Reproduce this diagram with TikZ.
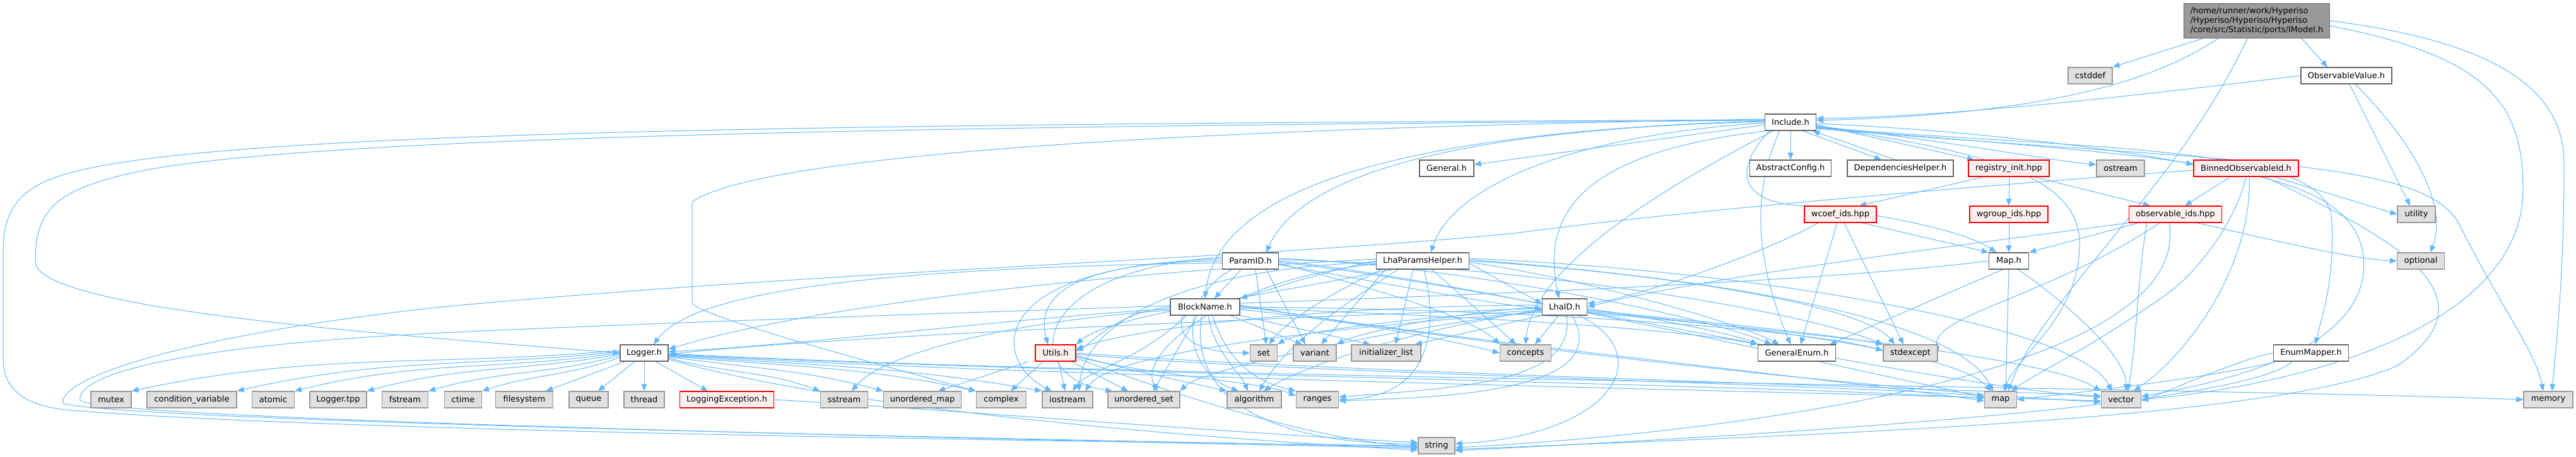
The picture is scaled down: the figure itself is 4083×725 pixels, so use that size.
\documentclass[tikz,border=0pt]{standalone}
\usepackage{fontspec}
\setmainfont{DejaVu Sans}
\usetikzlibrary{arrows.meta}
\definecolor{eb}{HTML}{63B8FF}
\definecolor{gfill}{HTML}{E0E0E0}
\definecolor{gdraw}{HTML}{999999}
\definecolor{wdraw}{HTML}{666666}
\definecolor{rfill}{HTML}{FFF0F0}
\definecolor{rdraw}{HTML}{FF0000}
\pgfdeclarelayer{back}
\pgfdeclarelayer{edges}
\pgfsetlayers{back,edges,main}
\begin{document}
\begin{tikzpicture}[x=1pt,y=-1pt,
  base/.style={rectangle, minimum height=26pt, inner xsep=2pt, inner ysep=0pt, line width=1.3pt, font=\fontsize{13}{15}\selectfont},
  wb/.style={base, draw=wdraw, fill=white},
  gb/.style={base, draw=gdraw, fill=gfill},
  rb/.style={base, draw=rdraw, fill=rfill},
  e/.style={draw=eb, line width=1pt, -{Triangle[length=11pt,width=9pt]}},
]
\begin{pgfonlayer}{back}
\fill[white] (0,0) rectangle (4083,725);
\end{pgfonlayer}
\useasboundingbox (0,0) rectangle (4083,725);

% ---------- nodes ----------
\node[base, draw=wdraw, fill=gdraw, minimum width=231pt, minimum height=55pt, align=left] (imodel) at (3577,33) {/home/runner/work/Hyperiso\\/Hyperiso/Hyperiso/Hyperiso\\/core/src/Statistic/ports/IModel.h};
\node[gb, minimum width=70pt] (cstddef) at (3313,120) {cstddef};
\node[wb, minimum width=144pt] (obsval) at (3719,120) {ObservableValue.h};
\node[wb, minimum width=81pt] (include) at (2838,194) {Include.h};
\node[wb, minimum width=86pt] (general) at (2293,267) {General.h};
\node[wb, minimum width=129pt] (abscfg) at (2838,267) {AbstractConfig.h};
\node[wb, minimum width=168pt] (dephelp) at (3012,267) {DependenciesHelper.h};
\node[rb, minimum width=128pt] (reginit) at (3184,267) {registry\_init.hpp};
\node[gb, minimum width=76pt] (ostream) at (3361,267) {ostream};
\node[rb, minimum width=166pt] (binned) at (3560,267) {BinnedObservableId.h};
\node[rb, minimum width=114pt] (wcoef) at (2917,340) {wcoef\_ids.hpp};
\node[rb, minimum width=124pt] (wgroup) at (3184,340) {wgroup\_ids.hpp};
\node[rb, minimum width=147pt] (obsids) at (3448,340) {observable\_ids.hpp};
\node[gb, minimum width=60pt] (utility) at (3830,340) {utility};
\node[wb, minimum width=89pt] (paramid) at (1982,414) {ParamID.h};
\node[wb, minimum width=147pt] (lhaph) at (2255,414) {LhaParamsHelper.h};
\node[wb, minimum width=63pt] (mapH) at (3184,414) {Map.h};
\node[gb, minimum width=75pt] (optional) at (3837,414) {optional};
\node[wb, minimum width=110pt] (blockname) at (1910,487) {BlockName.h};
\node[wb, minimum width=71pt] (lhaid) at (2480,487) {LhaID.h};
\node[wb, minimum width=76pt] (logger) at (1021,560) {Logger.h};
\node[rb, minimum width=64pt] (utils) at (1673,560) {Utils.h};
\node[gb, minimum width=43pt] (set) at (2003,560) {set};
\node[gb, minimum width=68pt] (variant) at (2084,560) {variant};
\node[gb, minimum width=110pt] (initlist) at (2197,560) {initializer\_list};
\node[gb, minimum width=81pt] (concepts) at (2418,560) {concepts};
\node[wb, minimum width=123pt] (genenum) at (2848,560) {GeneralEnum.h};
\node[gb, minimum width=86pt] (stdexcept) at (3028,560) {stdexcept};
\node[wb, minimum width=119pt] (enummap) at (3663,560) {EnumMapper.h};
\node[gb, minimum width=64pt] (mutex) at (176,634) {mutex};
\node[gb, minimum width=142pt] (condvar) at (304,634) {condition\_variable};
\node[gb, minimum width=67pt] (atomic) at (433,634) {atomic};
\node[gb, minimum width=90pt] (loggertpp) at (536,634) {Logger.tpp};
\node[gb, minimum width=73pt] (fstream) at (642,634) {fstream};
\node[gb, minimum width=59pt] (ctime) at (734,634) {ctime};
\node[gb, minimum width=91pt] (filesystem) at (831,634) {filesystem};
\node[gb, minimum width=62pt] (queue) at (933,634) {queue};
\node[gb, minimum width=64pt] (thread) at (1021,634) {thread};
\node[rb, minimum width=149pt] (logexc) at (1152,634) {LoggingException.h};
\node[gb, minimum width=75pt] (sstream) at (1338,634) {sstream};
\node[gb, minimum width=123pt] (umap) at (1462,634) {unordered\_map};
\node[gb, minimum width=79pt] (complex) at (1587,634) {complex};
\node[gb, minimum width=80pt] (iostream) at (1692,634) {iostream};
\node[gb, minimum width=114pt] (uset) at (1813,634) {unordered\_set};
\node[gb, minimum width=86pt] (algorithm) at (1988,634) {algorithm};
\node[gb, minimum width=67pt] (ranges) at (2088,634) {ranges};
\node[gb, minimum width=51pt] (map) at (3171,634) {map};
\node[gb, minimum width=63pt] (vector) at (3362,634) {vector};
\node[gb, minimum width=78pt] (memory) at (4039,634) {memory};
\node[gb, minimum width=58pt] (string) at (2277,707) {string};

% ---------- edges ----------
\begin{pgfonlayer}{edges}
% IModel
\draw[e] ([xshift=30pt]imodel.south west) -- (cstddef.north east);
\draw[e] ([xshift=55pt]imodel.south west) .. controls (3440,110) and (3300,180) .. ([yshift=3pt]include.east);
\draw[e] ([xshift=-45pt]imodel.south east) -- ([xshift=-30pt]obsval.north);
\draw[e] ([xshift=-15pt]imodel.south) .. controls (3450,300) and (3240,470) .. ([xshift=12pt]map.north);
\draw[e] ([yshift=-8pt]imodel.east) .. controls (3950,90) and (3999,170) .. (3999,300) .. controls (3999,520) and (3650,610) .. (vector.east);
\draw[e] (imodel.east) .. controls (3990,70) and (4064,160) .. (4064,260) .. controls (4064,450) and (4050,560) .. ([xshift=6pt]memory.north);
% ObservableValue
\draw[e] (obsval.west) .. controls (3400,150) and (3100,185) .. ([yshift=6pt]include.east);
\draw[e] ([xshift=5pt]obsval.south) -- ([xshift=-10pt]utility.north);
\draw[e] ([xshift=14pt]obsval.south) .. controls (3830,230) and (3880,330) .. ([xshift=15pt]optional.north);
% Include
\draw[e] (include) -- (abscfg);
\draw[e] ([xshift=-22pt]include.south east) -- ([xshift=-30pt]dephelp.north);
\draw[e] ([xshift=-8pt]dephelp.north) -- ([xshift=-6pt]include.south east);
\draw[e] ([yshift=-4pt]include.east) -- ([xshift=-55pt]reginit.north);
\draw[e] ([yshift=-6pt]include.east) .. controls (3100,225) and (3250,255) .. ([yshift=6pt]ostream.west);
\draw[e] ([yshift=-2pt]include.east) .. controls (3100,205) and (3350,235) .. ([yshift=6pt]binned.west);
\draw[e] ([yshift=-4pt]include.west) -- ([yshift=6pt]general.east);
\draw[e] ([yshift=1pt]include.west) .. controls (2300,205) and (2060,280) .. ([xshift=25pt]paramid.north);
\draw[e] ([yshift=2pt]include.west) .. controls (2250,208) and (1930,290) .. (blockname.north);
\draw[e] ([yshift=-1pt]include.west) .. controls (2480,215) and (2300,300) .. ([xshift=13pt]lhaph.north);
\draw[e] ([xshift=3pt]include.south west) .. controls (2520,240) and (2440,330) .. ([xshift=-9pt]lhaid.north);
\draw[e] ([xshift=14pt]include.south west) .. controls (2650,290) and (2430,420) .. (concepts.north);
\draw[e] ([xshift=24pt]include.south west) .. controls (2770,320) and (2790,430) .. ([xshift=-10pt]genenum.north);
\draw[e] ([xshift=8pt]include.south west) .. controls (2745,270) and (2760,320) .. (2850,326) .. controls (3000,340) and (3120,370) .. ([xshift=-20pt]mapH.north);
\draw[e] ([yshift=-7pt]include.east) .. controls (3150,240) and (3290,280) .. (3296,380) .. controls (3300,500) and (3200,560) .. ([xshift=5pt]map.north);
\draw[e] ([yshift=-8pt]include.east) .. controls (3350,240) and (3690,230) .. (3696,350) .. controls (3700,450) and (3680,500) .. ([xshift=7pt]enummap.north);
\draw[e] ([yshift=-9pt]include.east) .. controls (3450,250) and (3720,260) .. (3745,400) .. controls (3770,560) and (3500,610) .. ([yshift=5pt]vector.east);
\draw[e] ([yshift=-10pt]include.east) .. controls (3550,260) and (3850,250) .. (3900,360) .. controls (3960,480) and (4020,560) .. ([xshift=-8pt]memory.north);
\draw[e] ([yshift=3pt]include.west) .. controls (1500,200) and (500,215) .. (220,272) .. controls (90,300) and (56,330) .. (56,415) .. controls (56,490) and (600,530) .. (logger.west);
\draw[e] ([yshift=4pt]include.west) .. controls (1500,196) and (600,205) .. (232,252) .. controls (60,275) and (5,300) .. (5,400) -- (5,570) .. controls (5,630) and (60,645) .. (103,650) .. controls (500,685) and (1800,702) .. (string.west);
\draw[e] ([yshift=5pt]include.west) .. controls (1800,205) and (1200,250) .. (1097,320) -- (1097,480) .. controls (1100,500) and (1400,580) .. (complex.north west);
% registry
\draw[e] ([xshift=-40pt]reginit.south) -- ([xshift=30pt]wcoef.north);
\draw[e] (reginit) -- (wgroup);
\draw[e] ([xshift=40pt]reginit.south) -- ([xshift=-40pt]obsids.north);
\draw[e] ([xshift=-35pt]wcoef.south) .. controls (2800,400) and (2600,470) .. ([yshift=5pt]lhaid.east);
\draw[e] ([xshift=-5pt]wcoef.south) -- ([xshift=6pt]genenum.north);
\draw[e] ([xshift=6pt]wcoef.south) -- ([xshift=-11pt]stdexcept.north);
\draw[e] ([xshift=35pt]wcoef.south) -- (mapH.north west);
\draw[e] (wgroup) -- (mapH);
\draw[e] ([xshift=15pt]obsids.south west) -- (mapH.north east);
\draw[e] (obsids.south west) .. controls (3100,390) and (2700,440) .. (lhaid.east);
\draw[e] ([xshift=-40pt]obsids.south east) .. controls (3600,380) and (3720,410) .. (optional.west);
\draw[e] ([xshift=-45pt]obsids.south) .. controls (3390,420) and (3385,560) .. ([xshift=10pt]vector.north);
\draw[e] ([xshift=-25pt]obsids.south) .. controls (3250,470) and (3060,500) .. (stdexcept.east);
\draw[e] ([xshift=-10pt]obsids.south) .. controls (3480,600) and (2700,690) .. ([yshift=-3pt]string.east);
% binned
\draw[e] ([xshift=-25pt]binned.south) -- ([xshift=15pt]obsids.north);
\draw[e] ([xshift=45pt]binned.south) -- (utility.west);
\draw[e] (binned.south) .. controls (3550,330) and (3500,420) .. (3430,470) .. controls (3300,560) and (3230,590) .. ([xshift=17pt]map.north);
\draw[e] ([xshift=5pt]binned.south) .. controls (3570,420) and (3470,560) .. ([xshift=20pt]vector.north);
\draw[e] ([xshift=30pt]binned.south) .. controls (3800,380) and (3960,470) .. (3800,580) .. controls (3600,670) and (2800,692) .. ([yshift=-6pt]string.east);
\draw[e] ([yshift=-3pt]binned.west) .. controls (3200,290) and (2700,330) .. (2400,370) .. controls (2000,410) and (1300,430) .. (700,487) .. controls (300,530) and (90,600) .. (100,640) .. controls (200,670) and (1800,700) .. ([yshift=-2pt]string.west);
% Map.h
\draw[e] ([xshift=-10pt]mapH.south) -- ([xshift=-10pt]genenum.north east);
\draw[e] (mapH.south) -- ([xshift=8pt]map.north);
\draw[e] ([xshift=15pt]mapH.south) .. controls (3260,470) and (3370,560) .. ([xshift=8pt]vector.north);
\draw[e] (mapH.west) .. controls (2700,470) and (1500,490) .. (700,528) .. controls (250,550) and (120,600) .. (127,635) .. controls (150,665) and (1500,695) .. ([yshift=-4pt]string.west);
% EnumMapper
\draw[e] ([xshift=5pt]enummap.south west) .. controls (3500,600) and (3300,622) .. (map.east);
\draw[e] (enummap.west) .. controls (3550,570) and (3450,615) .. ([yshift=-2pt]vector.east);
\draw[e] ([xshift=30pt]enummap.south west) .. controls (3550,650) and (2700,695) .. ([yshift=-8pt]string.east);
% LoggingException
\draw[e] (logexc.east) .. controls (1500,650) and (2000,690) .. ([yshift=5pt]string.west);
% Logger
\draw[e] ([yshift=4pt]logger.west) to[out=185,in=12] (mutex.north east);
\draw[e] ([yshift=2pt]logger.west) to[out=186,in=13] (condvar.north east);
\draw[e] (logger.west) to[out=188,in=14] (atomic.north east);
\draw[e] ([yshift=-2pt]logger.west) to[out=190,in=15] (loggertpp.north east);
\draw[e] ([yshift=-4pt]logger.west) to[out=195,in=16] (fstream.north east);
\draw[e] ([yshift=-7pt]logger.west) to[out=200,in=18] (ctime.north east);
\draw[e] ([xshift=8pt]logger.south west) -- ([xshift=-12pt]filesystem.north east);
\draw[e] ([xshift=-15pt]logger.south) -- ([xshift=15pt]queue.north);
\draw[e] (logger) -- (thread);
\draw[e] ([xshift=-20pt]logger.south east) -- ([xshift=-30pt]logexc.north);
\draw[e] ([yshift=-8pt]logger.east) to[out=-15,in=160] (sstream.north west);
\draw[e] ([yshift=-6pt]logger.east) to[out=-8,in=165] (umap.north west);
\draw[e] ([yshift=-5pt]logger.east) to[out=-5,in=168] (complex.north west);
\draw[e] ([yshift=-4pt]logger.east) to[out=-4,in=170] (iostream.north west);
\draw[e] ([yshift=-10pt]logger.east) .. controls (1300,640) and (1800,690) .. ([yshift=-7pt]string.west);
\draw[e] ([yshift=-2pt]logger.east) .. controls (1600,590) and (2800,610) .. ([yshift=2pt]map.west);
\draw[e] ([yshift=-3pt]logger.east) .. controls (1700,600) and (3000,625) .. ([yshift=-2pt]vector.west);
\draw[e] ([yshift=-1pt]logger.east) .. controls (1800,600) and (3500,615) .. (memory.west);
% ParamID
\draw[e] ([xshift=-15pt]paramid.south) -- ([xshift=15pt]blockname.north);
\draw[e] (paramid.west) .. controls (1700,415) and (1640,470) .. ([xshift=-12pt]utils.north);
\draw[e] ([yshift=-3pt]paramid.west) .. controls (1400,425) and (1100,460) .. ([xshift=15pt]logger.north);
\draw[e] ([yshift=3pt]paramid.west) .. controls (1560,420) and (1570,570) .. ([xshift=-25pt]iostream.north);
\draw[e] ([yshift=6pt]paramid.west) .. controls (1620,430) and (1620,600) .. ([xshift=8pt]uset.north west);
\draw[e] ([xshift=-30pt]paramid.south) .. controls (1860,480) and (1880,590) .. ([xshift=-25pt]algorithm.north);
\draw[e] ([xshift=8pt]paramid.south) -- ([xshift=4pt]set.north);
\draw[e] ([xshift=25pt]paramid.south) -- ([xshift=-15pt]variant.north);
\draw[e] ([yshift=4pt]paramid.east) .. controls (2300,420) and (2700,500) .. ([xshift=-40pt]genenum.north);
\draw[e] ([yshift=2pt]paramid.east) .. controls (2400,420) and (2850,490) .. (stdexcept.north west);
\draw[e] (paramid.east) .. controls (2300,440) and (2950,590) .. ([yshift=4pt]map.west);
\draw[e] ([yshift=-2pt]paramid.east) .. controls (2350,450) and (3050,610) .. ([yshift=4pt]vector.west);
\draw[e] ([yshift=-4pt]paramid.east) .. controls (2150,450) and (2330,500) .. (concepts.north west);
\draw[e] ([yshift=-6pt]paramid.east) .. controls (2200,450) and (2350,480) .. ([yshift=-3pt]lhaid.west);
% BlockName
\draw[e] (blockname.west) .. controls (1770,495) and (1730,545) .. ([yshift=3pt]utils.east);
\draw[e] ([yshift=-3pt]blockname.west) .. controls (1600,505) and (1300,545) .. ([yshift=2pt]logger.east);
\draw[e] ([xshift=-35pt]blockname.south) .. controls (1860,540) and (1910,560) .. (set.west);
\draw[e] ([xshift=40pt]blockname.south) -- ([xshift=-20pt]variant.north);
\draw[e] (blockname.south east) -- ([xshift=-25pt]initlist.north);
\draw[e] ([yshift=-4pt]blockname.east) .. controls (2150,510) and (2300,540) .. (concepts.west);
\draw[e] ([yshift=-2pt]blockname.east) .. controls (2300,500) and (2650,520) .. (genenum.north west);
\draw[e] (blockname.east) .. controls (2400,490) and (2850,520) .. ([yshift=4pt]stdexcept.west);
\draw[e] ([xshift=-30pt]blockname.south) .. controls (1810,570) and (1720,590) .. ([xshift=8pt]iostream.north);
\draw[e] ([xshift=-12pt]blockname.south) -- ([xshift=15pt]uset.north);
\draw[e] ([xshift=5pt]blockname.south) .. controls (1925,560) and (1965,590) .. ([xshift=-10pt]algorithm.north);
\draw[e] ([xshift=12pt]blockname.south) .. controls (1950,590) and (2010,610) .. (ranges.north west);
\draw[e] ([xshift=-5pt]blockname.south) .. controls (1880,650) and (2050,705) .. ([yshift=3pt]string.west);
\draw[e] ([yshift=2pt]blockname.east) .. controls (2300,540) and (2900,600) .. ([yshift=-2pt]map.west);
\draw[e] ([yshift=3pt]blockname.east) .. controls (2350,550) and (3000,620) .. ([yshift=-4pt]vector.west);
\draw[e] ([yshift=-5pt]blockname.west) .. controls (1600,510) and (1400,560) .. ([xshift=12pt]sstream.north);
% LhaParamsHelper
\draw[e] (lhaph.west) .. controls (2100,430) and (2010,460) .. (blockname.north east);
\draw[e] ([yshift=-4pt]lhaph.east) -- ([yshift=5pt]lhaid.west);
\draw[e] ([xshift=15pt]lhaph.south west) -- ([xshift=10pt]variant.north);
\draw[e] ([xshift=-15pt]lhaph.south) -- ([xshift=15pt]initlist.north);
\draw[e] ([xshift=15pt]lhaph.south) -- ([xshift=-15pt]concepts.north);
\draw[e] ([xshift=2pt]lhaph.south) .. controls (2280,520) and (2270,630) .. (ranges.east);
\draw[e] ([xshift=25pt]lhaph.south west) .. controls (2000,470) and (1760,500) .. (utils.north east);
\draw[e] ([yshift=3pt]lhaph.west) .. controls (1800,430) and (1300,480) .. ([yshift=6pt]logger.east);
\draw[e] ([xshift=8pt]lhaph.south west) .. controls (2100,470) and (2040,510) .. ([xshift=8pt]set.north);
\draw[e] ([yshift=-2pt]lhaph.east) .. controls (2500,440) and (2750,510) .. ([xshift=-28pt]genenum.north);
\draw[e] (lhaph.east) .. controls (2600,430) and (2950,480) .. ([xshift=-25pt]stdexcept.north);
\draw[e] ([yshift=2pt]lhaph.east) .. controls (2700,440) and (3100,500) .. ([xshift=-12pt]map.north);
\draw[e] ([yshift=4pt]lhaph.east) .. controls (2800,430) and (3300,520) .. ([xshift=-15pt]vector.north);
\draw[e] ([yshift=-2pt]lhaph.west) .. controls (1900,425) and (1720,500) .. ([xshift=18pt]iostream.north);
\draw[e] ([yshift=-5pt]lhaph.west) .. controls (1950,440) and (1800,560) .. ([xshift=22pt]uset.north);
\draw[e] ([xshift=35pt]lhaph.south west) .. controls (2100,500) and (2030,560) .. ([xshift=8pt]algorithm.north);
% LhaID
\draw[e] ([xshift=-10pt]lhaid.south) -- ([xshift=15pt]concepts.north);
\draw[e] (lhaid.west) .. controls (2300,495) and (2150,530) .. (variant.north east);
\draw[e] (lhaid.south west) -- ([xshift=-10pt]initlist.north east);
\draw[e] ([xshift=3pt]lhaid.south) .. controls (2500,610) and (2300,615) .. ([yshift=4pt]ranges.east);
\draw[e] ([xshift=12pt]lhaid.south) .. controls (2560,620) and (2300,630) .. ([yshift=-2pt]ranges.east);
\draw[e] ([xshift=22pt]lhaid.south) .. controls (2630,560) and (2560,690) .. ([yshift=3pt]string.east);
\draw[e] ([yshift=-3pt]lhaid.east) .. controls (2600,500) and (2750,530) .. (genenum.north west);
\draw[e] ([yshift=-5pt]lhaid.east) .. controls (2700,510) and (2900,530) .. (stdexcept.north west);
\draw[e] ([yshift=-7pt]lhaid.east) .. controls (2800,520) and (3100,560) .. ([xshift=-15pt]map.north);
\draw[e] ([yshift=-9pt]lhaid.east) .. controls (2900,530) and (3250,570) .. (vector.north west);
\draw[e] ([yshift=3pt]lhaid.west) .. controls (2100,485) and (1800,520) .. ([yshift=6pt]utils.east);
\draw[e] ([yshift=-2pt]lhaid.west) .. controls (2000,505) and (1300,535) .. ([yshift=-2pt]logger.east);
\draw[e] ([yshift=-5pt]lhaid.west) .. controls (2200,505) and (2050,530) .. (set.north east);
\draw[e] ([yshift=-8pt]lhaid.west) .. controls (2100,520) and (1760,560) .. ([xshift=28pt]iostream.north);
\draw[e] ([yshift=-6pt]lhaid.west) .. controls (2150,530) and (1900,590) .. (uset.north east);
\draw[e] ([yshift=-4pt]lhaid.west) .. controls (2200,530) and (2050,590) .. ([xshift=15pt]algorithm.north);
% Utils
\draw[e] ([xshift=-10pt]utils.south west) -- ([xshift=25pt]umap.north);
\draw[e] ([xshift=-20pt]utils.south) -- ([xshift=15pt]complex.north);
\draw[e] ([xshift=5pt]utils.south) -- ([xshift=-4pt]iostream.north);
\draw[e] ([xshift=-8pt]utils.south east) -- ([xshift=-25pt]uset.north);
\draw[e] ([yshift=-4pt]utils.east) .. controls (1800,590) and (1900,610) .. (algorithm.north west);
\draw[e] ([yshift=-6pt]utils.east) .. controls (1850,600) and (2000,605) .. ([yshift=6pt]ranges.west);
\draw[e] ([yshift=-2pt]utils.east) .. controls (2000,590) and (2900,610) .. ([yshift=6pt]map.west);
\draw[e] (utils.east) .. controls (2100,590) and (3050,615) .. ([yshift=6pt]vector.west);
\draw[e] ([yshift=-8pt]utils.east) .. controls (1900,640) and (2100,700) .. ([yshift=-1pt]string.west);
\end{pgfonlayer}
\end{tikzpicture}
\end{document}
